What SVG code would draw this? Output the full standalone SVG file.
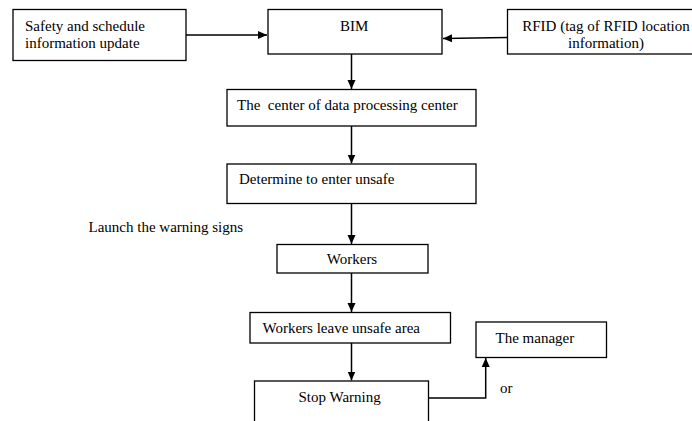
<svg xmlns="http://www.w3.org/2000/svg" width="692" height="421" viewBox="0 0 692 421">
<style>
.box{fill:#fff;stroke:#000;stroke-width:1.3}
.t{font-family:"Liberation Serif","Times New Roman",serif;font-size:15px;fill:#000}
.c{fill:none;stroke:#000;stroke-width:1.5}
</style>
<defs>
<marker id="ah" markerWidth="10" markerHeight="10" refX="9" refY="5" orient="auto" markerUnits="userSpaceOnUse">
<path d="M0,1 L9,5 L0,9 Z" fill="#000"/>
</marker>
</defs>
<rect width="692" height="421" fill="#fff"/>
<g id="connectors">
<line class="c" x1="186" y1="35" x2="267" y2="35" marker-end="url(#ah)"/>
<line class="c" x1="507" y1="37.5" x2="443" y2="38.5" marker-end="url(#ah)"/>
<line class="c" x1="351.5" y1="54" x2="351.5" y2="89" marker-end="url(#ah)"/>
<line class="c" x1="351.5" y1="126" x2="351.5" y2="163.5" marker-end="url(#ah)"/>
<line class="c" x1="351.5" y1="203.5" x2="351.5" y2="244" marker-end="url(#ah)"/>
<line class="c" x1="351.5" y1="273" x2="351.5" y2="312" marker-end="url(#ah)"/>
<line class="c" x1="351.5" y1="343" x2="351.5" y2="380.5" marker-end="url(#ah)"/>
<polyline class="c" points="428.5,398 485.7,398 485.7,358" marker-end="url(#ah)"/>
</g>
<g id="safety">
<rect class="box" x="13" y="9.5" width="173" height="51"/>
<text class="t" x="25" y="31">Safety and schedule</text>
<text class="t" x="25" y="48">information update</text>
</g>
<g id="bim">
<rect class="box" x="268" y="9.5" width="174" height="44.5"/>
<text class="t" x="340" y="31">BIM</text>
</g>
<g id="rfid">
<rect class="box" x="507.5" y="9.5" width="190" height="44.5"/>
<text class="t" x="606" y="31" text-anchor="middle">RFID (tag of RFID location</text>
<text class="t" x="606" y="48" text-anchor="middle">information)</text>
</g>
<g id="center">
<rect class="box" x="227" y="89.5" width="249" height="36.5"/>
<text class="t" x="237" y="110" xml:space="preserve">The  center of data processing center</text>
</g>
<g id="determine">
<rect class="box" x="227" y="164" width="249" height="39.5"/>
<text class="t" x="239" y="184">Determine to enter unsafe</text>
</g>
<g id="launch">
<text class="t" x="88.5" y="231.5">Launch the warning signs</text>
</g>
<g id="workers">
<rect class="box" x="277" y="244.5" width="151" height="28.5"/>
<text class="t" x="352" y="264" text-anchor="middle">Workers</text>
</g>
<g id="leave">
<rect class="box" x="250" y="312.5" width="200.5" height="30.5"/>
<text class="t" x="262.5" y="332.5">Workers leave unsafe area</text>
</g>
<g id="stop">
<rect class="box" x="254.5" y="381" width="174" height="50"/>
<text class="t" x="298.5" y="401.5">Stop Warning</text>
</g>
<g id="manager">
<rect class="box" x="476" y="322" width="130.5" height="35.5"/>
<text class="t" x="495.5" y="342.5">The manager</text>
</g>
<g id="or">
<text class="t" x="500" y="393">or</text>
</g>
</svg>
